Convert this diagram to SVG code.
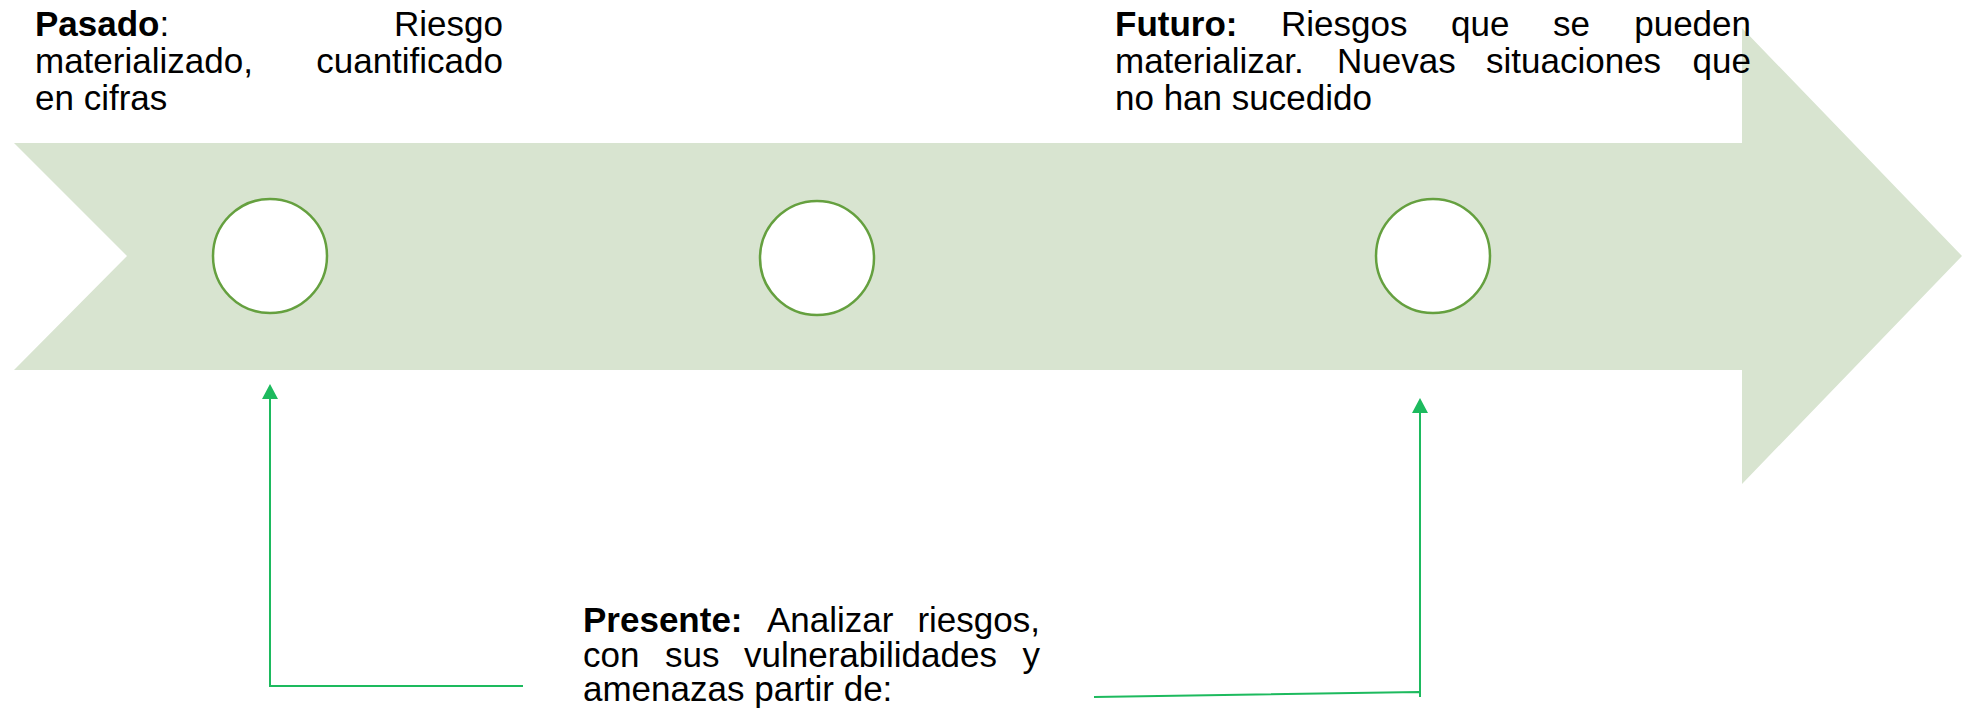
<svg xmlns="http://www.w3.org/2000/svg" width="1962" height="714" viewBox="0 0 1962 714">
  <style>
    .band { fill: #D8E4D0; stroke: none; }
    .dot { fill: #FFFFFF; stroke: #65A03F; stroke-width: 2.5; }
    .txt { font-family: "Liberation Sans", Arial, sans-serif; font-size: 35px; fill: #000000; }
    .b { font-weight: bold; }
    .conn { fill: none; stroke: #1DBA5E; stroke-width: 2; }
  </style>
  <defs>
    <marker id="ah" markerUnits="userSpaceOnUse" viewBox="0 0 15 16" markerWidth="15" markerHeight="16" refX="0" refY="8" orient="auto">
      <path d="M0,0 L15,8 L0,16 z" fill="#1DBA5E"/>
    </marker>
  </defs>

  <g id="timeline-arrow">
    <polygon class="band" points="14,143 1742,143 1742,28 1962,256 1742,484 1742,370 14,370 127,256"/>
  </g>

  <g id="circle-pasado">
    <circle class="dot" cx="270" cy="256" r="57"/>
  </g>
  <g id="circle-presente">
    <circle class="dot" cx="817" cy="258" r="57"/>
  </g>
  <g id="circle-futuro">
    <circle class="dot" cx="1433" cy="256" r="57"/>
  </g>

  <g id="connectors">
    <path class="conn" d="M523,686 L270,686 L270,399" marker-end="url(#ah)"/>
    <path class="conn" d="M1094,697 L1419,692 M1420,697 L1420,413" marker-end="url(#ah)"/>
  </g>

  <g id="text-pasado">
    <text class="txt"><tspan x="35" y="36" class="b">Pasado</tspan><tspan>:</tspan><tspan x="503" y="36" text-anchor="end">Riesgo</tspan><tspan x="35" y="73">materializado,</tspan><tspan x="503" y="73" text-anchor="end">cuantificado</tspan><tspan x="35" y="110">en cifras</tspan></text>
  </g>

  <g id="text-futuro">
    <text class="txt"><tspan x="1115" y="36" class="b">Futuro:</tspan><tspan x="1281" y="36">Riesgos</tspan><tspan x="1451" y="36">que</tspan><tspan x="1553" y="36">se</tspan><tspan x="1751" y="36" text-anchor="end">pueden</tspan><tspan x="1115" y="73">materializar.</tspan><tspan x="1337" y="73">Nuevas</tspan><tspan x="1486" y="73">situaciones</tspan><tspan x="1751" y="73" text-anchor="end">que</tspan><tspan x="1115" y="110">no han sucedido</tspan></text>
  </g>

  <g id="text-presente">
    <text class="txt"><tspan x="583" y="632" class="b">Presente:</tspan><tspan x="767" y="632">Analizar</tspan><tspan x="1040" y="632" text-anchor="end">riesgos,</tspan><tspan x="583" y="667">con</tspan><tspan x="665" y="667">sus</tspan><tspan x="744" y="667">vulnerabilidades</tspan><tspan x="1040" y="667" text-anchor="end">y</tspan><tspan x="583" y="701">amenazas partir de:</tspan></text>
  </g>
</svg>
